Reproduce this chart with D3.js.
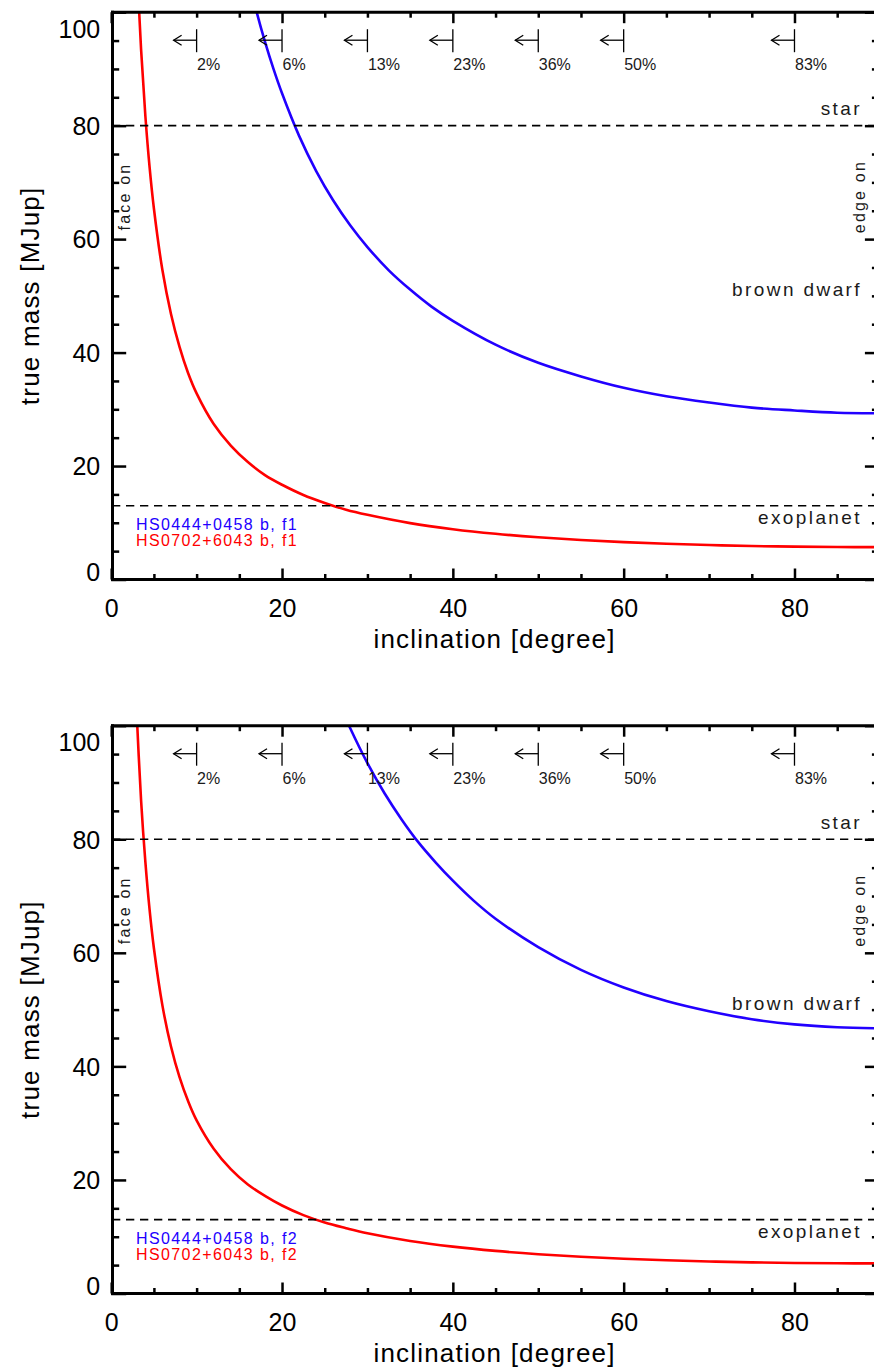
<!DOCTYPE html>
<html>
<head>
<meta charset="utf-8">
<script src="https://cdn.jsdelivr.net/npm/d3@7"></script>
<style>
  body { margin: 0; background: #fff; }
  svg { display: block; }
</style>
</head>
<body>
<svg id="chart" width="874" height="1371"></svg>
<script>
// ---- axis ticks ----
const inclinationMajor = [0, 20, 40, 60, 80];
const inclinationMinor = [5, 10, 15, 25, 30, 35, 45, 50, 55, 65, 70, 75, 85];
const massMajor = [0, 20, 40, 60, 80, 100];
const massMinor = [5, 10, 15, 25, 30, 35, 45, 50, 55, 65, 70, 75, 85, 90, 95];

// ---- transit-probability markers ----
const probInclination = [10, 20, 30, 40, 50, 60, 80];
const probLabels = ["2%", "6%", "13%", "23%", "36%", "50%", "83%"];

// ---- mass class limits (MJup) ----
const limitNames = ["star", "exoplanet"];
const limitValues = [80, 13];
const brownDwarfLabelMass = 50;

// ---- true mass vs inclination, solution f1 ----
const incBlueF1  = [16, 17, 18, 19, 20, 22, 24, 26, 28, 30, 32.5, 35, 37.5, 40, 45, 50, 55, 60, 65, 70, 75, 80, 85, 90];
const massBlueF1 = [106.3, 100.2, 94.8, 90.0, 85.7, 78.2, 72.0, 66.8, 62.4, 58.6, 54.5, 51.1, 48.1, 45.6, 41.4, 38.2, 35.8, 33.8, 32.3, 31.2, 30.3, 29.8, 29.4, 29.3];
const incRedF1   = [3, 3.5, 4, 4.5, 5, 6, 7, 8, 9, 10, 12, 14, 16, 18, 20, 22.5, 25, 27.5, 30, 35, 40, 45, 50, 55, 60, 65, 70, 75, 80, 85, 90];
const massRedF1  = [108.9, 93.4, 81.7, 72.6, 65.4, 54.5, 46.8, 41.0, 36.4, 32.8, 27.4, 23.6, 20.7, 18.4, 16.7, 14.9, 13.5, 12.3, 11.4, 9.94, 8.87, 8.06, 7.44, 6.96, 6.58, 6.29, 6.07, 5.90, 5.79, 5.72, 5.70];

// ---- true mass vs inclination, solution f2 ----
const incBlueF2  = [27, 28, 30, 32, 34, 36, 38, 40, 42.5, 45, 50, 55, 60, 65, 70, 75, 80, 85, 90];
const massBlueF2 = [102.9, 99.5, 93.4, 88.1, 83.5, 79.4, 75.9, 72.7, 69.1, 66.0, 61.0, 57.0, 53.9, 51.5, 49.7, 48.3, 47.4, 46.9, 46.7];
const incRedF2   = [2.9, 3.5, 4, 4.5, 5, 6, 7, 8, 9, 10, 12, 14, 16, 18, 20, 22.5, 25, 27.5, 30, 35, 40, 45, 50, 55, 60, 65, 70, 75, 80, 85, 90];
const massRedF2  = [104.8, 86.8, 76.0, 67.5, 60.8, 50.7, 43.5, 38.1, 33.9, 30.5, 25.5, 21.9, 19.2, 17.2, 15.5, 13.8, 12.5, 11.5, 10.6, 9.24, 8.25, 7.50, 6.92, 6.47, 6.12, 5.85, 5.64, 5.49, 5.38, 5.32, 5.30];

const BLUE = "#2200ff";
const RED = "#ff0000";
const FONT = "'Liberation Sans', Arial, Helvetica, sans-serif";

const panels = [
  { top: 12.2, bottom: 579.5,
    series: [
      { name: "HS0444+0458 b, f1", color: BLUE, inc: incBlueF1, mass: massBlueF1 },
      { name: "HS0702+6043 b, f1", color: RED, inc: incRedF1, mass: massRedF1 }
    ] },
  { top: 725.7, bottom: 1293.5,
    series: [
      { name: "HS0444+0458 b, f2", color: BLUE, inc: incBlueF2, mass: massBlueF2 },
      { name: "HS0702+6043 b, f2", color: RED, inc: incRedF2, mass: massRedF2 }
    ] }
];

const svg = d3.select("#chart");
const x = d3.scaleLinear().domain([0, 90]).range([111.2, 879.9]);

panels.forEach((p, pi) => {
  const y = d3.scaleLinear().domain([0, 100]).range([p.bottom, p.top]);
  const g = svg.append("g");
  const x0 = x(0), x1 = x(90), y0 = y(0), y1 = y(100);

  // clip region for curves
  const clipId = "clip" + pi;
  svg.append("defs").append("clipPath").attr("id", clipId)
    .append("rect").attr("x", x0).attr("y", y1).attr("width", x1 - x0).attr("height", y0 - y1);

  // curves
  const line = d3.line().x(d => x(d[0])).y(d => y(d[1])).curve(d3.curveCatmullRom.alpha(0.5));
  p.series.forEach(s => {
    g.append("path")
      .attr("d", line(s.inc.map((v, i) => [v, s.mass[i]])))
      .attr("fill", "none").attr("stroke", s.color).attr("stroke-width", 2.6)
      .attr("clip-path", `url(#${clipId})`);
  });

  // dashed class limits
  limitValues.forEach(v => {
    g.append("line")
      .attr("x1", x0 + 0.8).attr("x2", x1).attr("y1", y(v)).attr("y2", y(v))
      .attr("stroke", "#000").attr("stroke-width", 1.7).attr("stroke-dasharray", "8.3 5.7");
  });

  // class labels
  const classLabel = (txt, yy) => g.append("text")
    .attr("x", 862).attr("y", yy).attr("text-anchor", "end")
    .attr("font-family", FONT).attr("font-size", 19).attr("letter-spacing", 2.4)
    .attr("fill", "#1a1a1a").text(txt);
  classLabel(limitNames[0], y(limitValues[0]) - 10.5);
  classLabel(limitNames[1], y(limitValues[1]) + 18);
  classLabel("brown dwarf", y(brownDwarfLabelMass));

  // face on / edge on
  const vLabel = (txt, xx) => g.append("text")
    .attr("transform", `translate(${xx},${y(67.5)}) rotate(-90)`)
    .attr("text-anchor", "middle")
    .attr("font-family", FONT).attr("font-size", 16).attr("letter-spacing", 2.2)
    .attr("fill", "#1a1a1a").text(txt);
  vLabel("face on", 130);
  vLabel("edge on", 865);

  // transit probability arrows
  probInclination.forEach((inc, i) => {
    const xi = x(inc);
    const a = g.append("g").attr("stroke", "#000").attr("stroke-width", 1.3).attr("fill", "none");
    a.append("line").attr("x1", xi).attr("x2", xi).attr("y1", y1 + 17).attr("y2", y1 + 40);
    a.append("line").attr("x1", xi - 23).attr("x2", xi).attr("y1", y1 + 28).attr("y2", y1 + 28);
    a.append("path").attr("d", `M${xi - 15},${y1 + 23}L${xi - 23},${y1 + 28}L${xi - 15},${y1 + 33}`);
    g.append("text")
      .attr("x", xi + 0.5).attr("y", y1 + 57.8)
      .attr("font-family", FONT).attr("font-size", 16)
      .attr("fill", "#1a1a1a").text(probLabels[i]);
  });

  // legend
  p.series.forEach((s, i) => {
    g.append("text")
      .attr("x", 136).attr("y", y0 - 50 + i * 16.7)
      .attr("font-family", FONT).attr("font-size", 16).attr("letter-spacing", 1.4)
      .attr("fill", s.color).text(s.name);
  });

  // ---- axes (ticks pointing inward on all four sides) ----
  const styleAxis = sel => {
    sel.select(".domain").remove();
    sel.selectAll(".tick line").attr("stroke", "#000").attr("stroke-width", 2.5);
    sel.selectAll("text").attr("font-family", FONT).attr("font-size", 25).attr("fill", "#000");
  };

  // left
  const left = g.append("g").attr("transform", `translate(${x0},0)`)
    .call(d3.axisLeft(y).tickValues(massMajor).tickSize(-15).tickPadding(11).tickFormat(d3.format("d")));
  styleAxis(left);
  left.selectAll(".tick text").attr("dy", d => d === 100 ? "1.0em" : d === 0 ? "0.05em" : "0.35em");
  styleAxis(g.append("g").attr("transform", `translate(${x0},0)`)
    .call(d3.axisLeft(y).tickValues(massMinor).tickSize(-8).tickFormat("")));
  // right
  styleAxis(g.append("g").attr("transform", `translate(${x1},0)`)
    .call(d3.axisRight(y).tickValues(massMajor).tickSize(-15).tickFormat("")));
  styleAxis(g.append("g").attr("transform", `translate(${x1},0)`)
    .call(d3.axisRight(y).tickValues(massMinor).tickSize(-8).tickFormat("")));
  // bottom
  const bottom = g.append("g").attr("transform", `translate(0,${y0})`)
    .call(d3.axisBottom(x).tickValues(inclinationMajor).tickSize(-11).tickPadding(20).tickFormat(d3.format("d")));
  styleAxis(bottom);
  bottom.selectAll(".tick text").attr("dy", "0.71em");
  styleAxis(g.append("g").attr("transform", `translate(0,${y0})`)
    .call(d3.axisBottom(x).tickValues(inclinationMinor).tickSize(-5.5).tickFormat("")));
  // top
  styleAxis(g.append("g").attr("transform", `translate(0,${y1})`)
    .call(d3.axisTop(x).tickValues(inclinationMajor).tickSize(-11).tickFormat("")));
  styleAxis(g.append("g").attr("transform", `translate(0,${y1})`)
    .call(d3.axisTop(x).tickValues(inclinationMinor).tickSize(-5.5).tickFormat("")));

  // frame
  const frame = g.append("g").attr("stroke", "#000").attr("stroke-width", 3).attr("stroke-linecap", "square");
  frame.append("line").attr("x1", x0 + 1.3).attr("x2", x0 + 1.3).attr("y1", y1).attr("y2", y0);
  frame.append("line").attr("x1", x1 - 1.3).attr("x2", x1 - 1.3).attr("y1", y1).attr("y2", y0);
  frame.append("line").attr("x1", x0 + 1.3).attr("x2", x1).attr("y1", y0).attr("y2", y0);
  frame.append("line").attr("x1", x0 + 1.3).attr("x2", x1).attr("y1", y1).attr("y2", y1);

  // axis titles
  g.append("text")
    .attr("x", (x0 + x1) / 2 - 1).attr("y", y0 + 68)
    .attr("text-anchor", "middle")
    .attr("font-family", FONT).attr("font-size", 26).attr("letter-spacing", 1.2)
    .text("inclination [degree]");
  g.append("text")
    .attr("transform", `translate(39,${(y0 + y1) / 2}) rotate(-90)`)
    .attr("text-anchor", "middle")
    .attr("font-family", FONT).attr("font-size", 26).attr("letter-spacing", 1.2)
    .text("true mass [MJup]");
});
</script>
</body>
</html>
